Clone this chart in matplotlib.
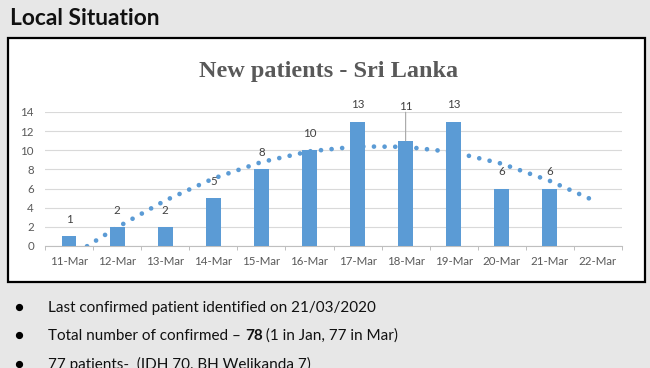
import matplotlib
matplotlib.use("Agg")
import matplotlib.pyplot as plt
from matplotlib.patches import Rectangle
from matplotlib.lines import Line2D

W, H = 650, 368

# ---- data
DAYS = ["11-Mar", "12-Mar", "13-Mar", "14-Mar", "15-Mar", "16-Mar",
        "17-Mar", "18-Mar", "19-Mar", "20-Mar", "21-Mar", "22-Mar"]
NEW_PATIENTS = [1, 2, 2, 5, 8, 10, 13, 11, 13, 6, 6, None]
# Excel polynomial trendline, read at each category
TREND = [-1.2, 1.95, 4.75, 7.05, 8.77, 9.89, 10.4, 10.36, 9.8, 8.6, 6.8, 4.56]
LEADER_DAY = "18-Mar"  # label pulled up with a leader line

BULLETS = [
    [("Last confirmed patient identified on 21/03/2020", "normal")],
    [("Total number of confirmed \u2013 ", "normal"), ("78", "bold"),
     (" (1 in Jan, 77 in Mar)", "normal")],
    [("77 patients-  (IDH 70, BH Welikanda 7)", "normal")],
]

BLUE = "#5b9bd5"
GREY_TXT = "#595959"
BG = "#e7e7e7"

plt.rcParams.update({"font.family": ["Lato", "DejaVu Sans"]})


def fx(x):
    return x / W


def fy(y):
    return 1 - y / H


fig = plt.figure(figsize=(W / 100, H / 100), dpi=100)
fig.patch.set_facecolor(BG)

# heading
fig.text(fx(10), fy(25), "Local Situation", fontsize=16.4, fontweight="bold",
         color="#111111", ha="left", va="baseline")

# chart frame
fig.patches.append(Rectangle((fx(8), fy(282)), fx(645) - fx(8), fy(38) - fy(282),
                             transform=fig.transFigure, facecolor="white",
                             edgecolor="black", linewidth=1.6, zorder=-5))

fig.text(fx(328.5), fy(77), "New patients - Sri Lanka", fontsize=17.5,
         fontweight="bold", family="Liberation Serif", color=GREY_TXT,
         ha="center", va="baseline")

ax = fig.add_axes([fx(45), fy(246), fx(622) - fx(45), fy(112) - fy(246)])
ax.set_facecolor("white")
xs = list(range(len(DAYS)))

bx = [i for i, v in zip(xs, NEW_PATIENTS) if v is not None]
bv = [v for v in NEW_PATIENTS if v is not None]
ax.bar(bx, bv, width=0.31, color=BLUE, zorder=3)

# dotted trendline sits behind the bars
ax.plot(xs, TREND, color=BLUE, linewidth=3.4, linestyle=(0, (0.001, 2.25)),
        dash_capstyle="round", zorder=2)

for i, v in zip(bx, bv):
    if DAYS[i] == LEADER_DAY:
        ax.annotate(str(v), (i, v), xytext=(0, 24.5), textcoords="offset points",
                    ha="center", va="center", fontsize=8.3, color="#404040",
                    zorder=5)
        ax.annotate("", (i, v), xytext=(0, 20.5), textcoords="offset points",
                    arrowprops=dict(arrowstyle="-", color="#a6a6a6", lw=0.8,
                                    shrinkA=0, shrinkB=0), zorder=5)
    else:
        ax.annotate(str(v), (i, v), xytext=(0, 12), textcoords="offset points",
                    ha="center", va="center", fontsize=8.3, color="#404040",
                    zorder=5)

ax.set_xlim(-0.5, len(DAYS) - 0.5)
ax.set_ylim(0, 14)
ax.set_yticks(range(0, 15, 2))
ax.set_xticks(xs)
ax.set_xticklabels(DAYS)
ax.set_xticks([i - 0.5 for i in range(len(DAYS) + 1)], minor=True)
ax.tick_params(axis="x", which="major", length=0, pad=7, labelsize=8.3,
               labelcolor=GREY_TXT)
ax.tick_params(axis="x", which="minor", length=3, width=0.7, color="#bfbfbf")
ax.tick_params(axis="y", length=0, pad=8, labelsize=8.3, labelcolor=GREY_TXT)
ax.yaxis.grid(True, color="#d9d9d9", linewidth=0.8, zorder=0)
ax.set_axisbelow(True)
for s in ("top", "right", "left"):
    ax.spines[s].set_visible(False)
ax.spines["bottom"].set_color("#bfbfbf")
ax.spines["bottom"].set_linewidth(0.8)

# bullet list under the chart (last line is cut by the slide edge)
fig.canvas.draw()
renderer = fig.canvas.get_renderer()
baselines = [312, 340, 369]
for line, base in zip(BULLETS, baselines):
    fig.lines.append(Line2D([fx(19)], [fy(base - 5.5)], transform=fig.transFigure,
                            marker="o", markersize=4.2, color="black",
                            linestyle="none"))
    x = 48
    for txt, weight in line:
        t = fig.text(fx(x), fy(base), txt, fontsize=11, fontweight=weight,
                     color="#111111", ha="left", va="baseline")
        x += t.get_window_extent(renderer).width

fig.savefig("out.png", dpi=100, facecolor=BG)
